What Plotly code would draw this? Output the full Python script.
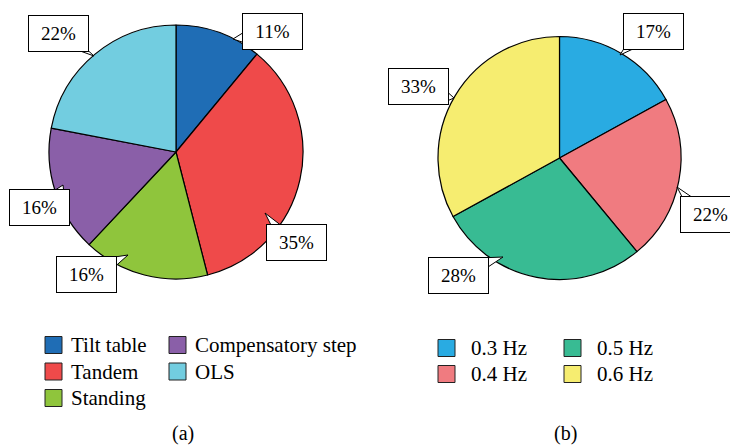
import plotly.graph_objects as go

W, H = 730, 446

# ---- data ----
a_labels = ["Tilt table", "Tandem", "Standing", "Compensatory step", "OLS"]
a_values = [11, 35, 16, 16, 22]
a_colors = ["#1f6db5", "#ef4a4a", "#8fc53c", "#8a5fa8", "#72cde0"]

b_labels = ["0.3 Hz", "0.4 Hz", "0.5 Hz", "0.6 Hz"]
b_values = [17, 22, 28, 33]
b_colors = ["#29abe2", "#f07b80", "#38bb93", "#f6ed70"]

FONT = "Liberation Serif, Times New Roman, DejaVu Serif, serif"

# ---- layout helpers (pixel positions) ----
a_pie = (176, 152, 127)
b_pie = (559.5, 158, 121.5)

# callout: (box centre x, box centre y, pointer tip x, pointer tip y)
a_callouts = [(272, 32, 233, 39), (296, 242, 265, 213), (86, 274.5, 128, 255),
              (39, 207.5, 63, 185), (58, 33.5, 94, 56)]
b_callouts = [(653.5, 32, 620, 55), (710, 214, 677, 187), (458.5, 275, 503, 257),
              (418, 86, 454, 98)]
BOX_W, BOX_H = 61, 37
WEDGE_HALF = 5


def px(x):
    return x / W


def py(y):
    return 1 - y / H


def domain(c):
    cx, cy, r = c
    return dict(x=[px(cx - r), px(cx + r)], y=[py(cy + r), py(cy - r)])


fig = go.Figure()
for labels, values, colors, pie in [(a_labels, a_values, a_colors, a_pie),
                                     (b_labels, b_values, b_colors, b_pie)]:
    fig.add_trace(go.Pie(
        labels=labels, values=values, sort=False, direction="clockwise",
        rotation=0, textinfo="none", hoverinfo="label+percent",
        marker=dict(colors=colors, line=dict(color="black", width=1.2)),
        domain=domain(pie), showlegend=False,
    ))

annotations = []
shapes = []


def wedge(bx, by, tx, ty):
    hw, hh = BOX_W / 2, BOX_H / 2
    dx, dy = tx - bx, ty - by
    sx = hw / abs(dx) if dx else 1e9
    sy = hh / abs(dy) if dy else 1e9
    s = min(sx, sy)
    cx, cy = bx + s * dx, by + s * dy
    if sx < sy:  # vertical edge
        cy = min(max(cy, by - hh + WEDGE_HALF + 1), by + hh - WEDGE_HALF - 1)
        p1, p2 = (cx, cy - WEDGE_HALF), (cx, cy + WEDGE_HALF)
        # push base slightly inside box so it is hidden
        inset = -2 if dx > 0 else 2
        p1, p2 = (p1[0] + inset, p1[1]), (p2[0] + inset, p2[1])
    else:
        cx = min(max(cx, bx - hw + WEDGE_HALF + 1), bx + hw - WEDGE_HALF - 1)
        p1, p2 = (cx - WEDGE_HALF, cy), (cx + WEDGE_HALF, cy)
        inset = -2 if dy > 0 else 2
        p1, p2 = (p1[0], p1[1] + inset), (p2[0], p2[1] + inset)
    path = (f"M {px(p1[0])} {py(p1[1])} L {px(tx)} {py(ty)} "
            f"L {px(p2[0])} {py(p2[1])} Z")
    return dict(type="path", xref="paper", yref="paper", path=path,
                fillcolor="white", line=dict(color="black", width=1), layer="above")


# percentage callouts
for values, callouts in [(a_values, a_callouts), (b_values, b_callouts)]:
    total = sum(values)
    for v, (bx, by, tx, ty) in zip(values, callouts):
        shapes.append(wedge(bx, by, tx, ty))
        annotations.append(dict(
            x=px(bx), y=py(by), xref="paper", yref="paper",
            xanchor="center", yanchor="middle",
            text=f"{round(100 * v / total)}%", showarrow=False,
            bgcolor="white", bordercolor="black", borderwidth=1,
            borderpad=2, width=BOX_W - 6, height=BOX_H - 6,
            font=dict(family=FONT, size=19, color="black"),
        ))


# legends
def add_legend(labels, colors, rows, x0s, y0, dy, sq, gap):
    for i, (lab, col) in enumerate(zip(labels, colors)):
        c, r = divmod(i, rows)
        x = x0s[c]
        yc = y0 + r * dy
        shapes.append(dict(type="rect", xref="paper", yref="paper",
                           x0=px(x), x1=px(x + sq), y0=py(yc + sq / 2), y1=py(yc - sq / 2),
                           fillcolor=col, line=dict(color="#222222", width=1)))
        annotations.append(dict(x=px(x + sq + gap), y=py(yc), xref="paper", yref="paper",
                                xanchor="left", yanchor="middle", showarrow=False,
                                text=lab, font=dict(family=FONT, size=21, color="black")))


add_legend(a_labels, a_colors, 3, [45, 169], 345, 26.5, 17, 7)
add_legend(b_labels, b_colors, 2, [438, 564], 348, 26, 17, 14)

for t, x in [("(a)", 183), ("(b)", 565)]:
    annotations.append(dict(x=px(x), y=py(433), xref="paper", yref="paper",
                            xanchor="center", yanchor="middle", showarrow=False,
                            text=t, font=dict(family=FONT, size=20, color="black")))

fig.update_layout(
    width=W, height=H, margin=dict(l=0, r=0, t=0, b=0),
    paper_bgcolor="white", plot_bgcolor="white",
    font=dict(family=FONT),
    annotations=annotations, shapes=shapes, showlegend=False,
)

fig.write_html("out.html", config={"displayModeBar": False},
               post_script="document.body.style.margin='0';")
